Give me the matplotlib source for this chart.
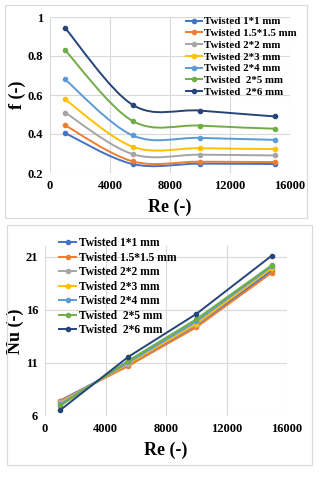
import numpy as np
import matplotlib
matplotlib.use("Agg")
import matplotlib.pyplot as plt
from matplotlib.path import Path
from matplotlib.patches import PathPatch, Rectangle
from matplotlib.lines import Line2D

plt.rcParams['font.family'] = ['Liberation Serif', 'DejaVu Serif']
plt.rcParams['font.weight'] = 'bold'
plt.rcParams['axes.labelweight'] = 'bold'

re = [1000, 5500, 10000, 15000]
labels = ['Twisted 1*1 mm', 'Twisted 1.5*1.5 mm', 'Twisted 2*2 mm', 'Twisted 2*3 mm',
          'Twisted 2*4 mm', 'Twisted  2*5 mm', 'Twisted  2*6 mm']
colors = ['#4472C4', '#ED7D31', '#A5A5A5', '#FFC000', '#5B9BD5', '#70AD47', '#264478']

f_1x1 = [0.405, 0.246, 0.248, 0.246]
f_15x15 = [0.445, 0.260, 0.258, 0.256]
f_2x2 = [0.510, 0.297, 0.294, 0.290]
f_2x3 = [0.578, 0.335, 0.327, 0.323]
f_2x4 = [0.680, 0.393, 0.380, 0.370]
f_2x5 = [0.830, 0.467, 0.443, 0.427]
f_2x6 = [0.944, 0.550, 0.520, 0.490]
f_all = [f_1x1, f_15x15, f_2x2, f_2x3, f_2x4, f_2x5, f_2x6]

nu_1x1 = [7.45, 10.8, 14.45, 19.7]
nu_15x15 = [7.4, 10.7, 14.35, 19.5]
nu_2x2 = [7.3, 10.9, 14.6, 19.9]
nu_2x3 = [7.2, 10.95, 14.7, 19.95]
nu_2x4 = [7.1, 11.05, 14.9, 20.1]
nu_2x5 = [6.95, 11.2, 15.1, 20.2]
nu_2x6 = [6.55, 11.56, 15.6, 21.1]
nu_all = [nu_1x1, nu_15x15, nu_2x2, nu_2x3, nu_2x4, nu_2x5, nu_2x6]


def smooth_path(x, y):
    # Excel-like smoothed line drawn as cubic Bezier segments through the points
    p = np.column_stack([x, y]).astype(float)
    ext = np.vstack([p[0], p, p[-1]])
    verts = [p[0]]
    codes = [Path.MOVETO]
    for i in range(len(p) - 1):
        c1 = ext[i + 1] + (ext[i + 2] - ext[i]) / 6
        c2 = ext[i + 2] - (ext[i + 3] - ext[i + 1]) / 6
        verts += [c1, c2, p[i + 1]]
        codes += [Path.CURVE4] * 3
    return Path(verts, codes)


fig = plt.figure(figsize=(3.25, 4.8), dpi=100)

# panel borders
fig.patches.append(Rectangle((5 / 325, 1 - 218 / 480), 302 / 325, 213 / 480, transform=fig.transFigure,
                             fill=False, edgecolor='#D9D9D9', lw=0.8))
fig.patches.append(Rectangle((7 / 325, 1 - 465 / 480), 305 / 325, 240 / 480, transform=fig.transFigure,
                             fill=False, edgecolor='#D9D9D9', lw=0.8))

ax1 = fig.add_axes([50 / 325, 1 - 173 / 480, 240 / 325, 156 / 480])
ax2 = fig.add_axes([45 / 325, 1 - 416 / 480, 242 / 325, 170 / 480])

for ys, c in zip(f_all, colors):
    ax1.add_patch(PathPatch(smooth_path(re, ys), fill=False, edgecolor=c, lw=1.4, zorder=3))
    ax1.plot(re, ys, 'o', color=c, ms=3, zorder=4)

for ys, c in zip(nu_all, colors):
    ax2.plot(re, ys, '-o', color=c, ms=3, lw=1.4, zorder=3)

handles = [Line2D([], [], color=c, marker='o', ms=3, lw=1.4) for c in colors]

ax1.set_xlim(0, 16000)
ax1.set_ylim(0.2, 1.0)
ax1.set_yticks([0.2, 0.4, 0.6, 0.8, 1.0])
ax1.set_yticklabels(['0.2', '0.4', '0.6', '0.8', '1'])
ax1.set_ylabel('f (-)', fontsize=13, labelpad=1)
ax1.legend(handles, labels, loc='upper left', bbox_to_anchor=(0.535, 1.05), frameon=False,
           fontsize=7.8, handlelength=1.5, handletextpad=0.2, labelspacing=0.2, borderpad=0.2)

ax2.set_xlim(0, 16000)
ax2.set_ylim(6, 22)
ax2.set_yticks([6, 11, 16, 21])
ax2.set_ylabel('Nu (-)', fontsize=13, labelpad=1)
ax2.legend(handles, labels, loc='upper left', bbox_to_anchor=(0.025, 1.1), frameon=False,
           fontsize=8.3, handlelength=1.5, handletextpad=0.2, labelspacing=0.22, borderpad=0.2)

for ax in (ax1, ax2):
    ax.set_xticks([0, 4000, 8000, 12000, 16000])
    ax.set_xlabel('Re (-)', fontsize=13, labelpad=5)
    ax.grid(True, color='#D9D9D9', lw=0.8)
    ax.set_axisbelow(True)
    for s in ax.spines.values():
        s.set_visible(False)
    ax.tick_params(length=0, labelsize=9, pad=5)

fig.savefig('out.png', dpi=100)
